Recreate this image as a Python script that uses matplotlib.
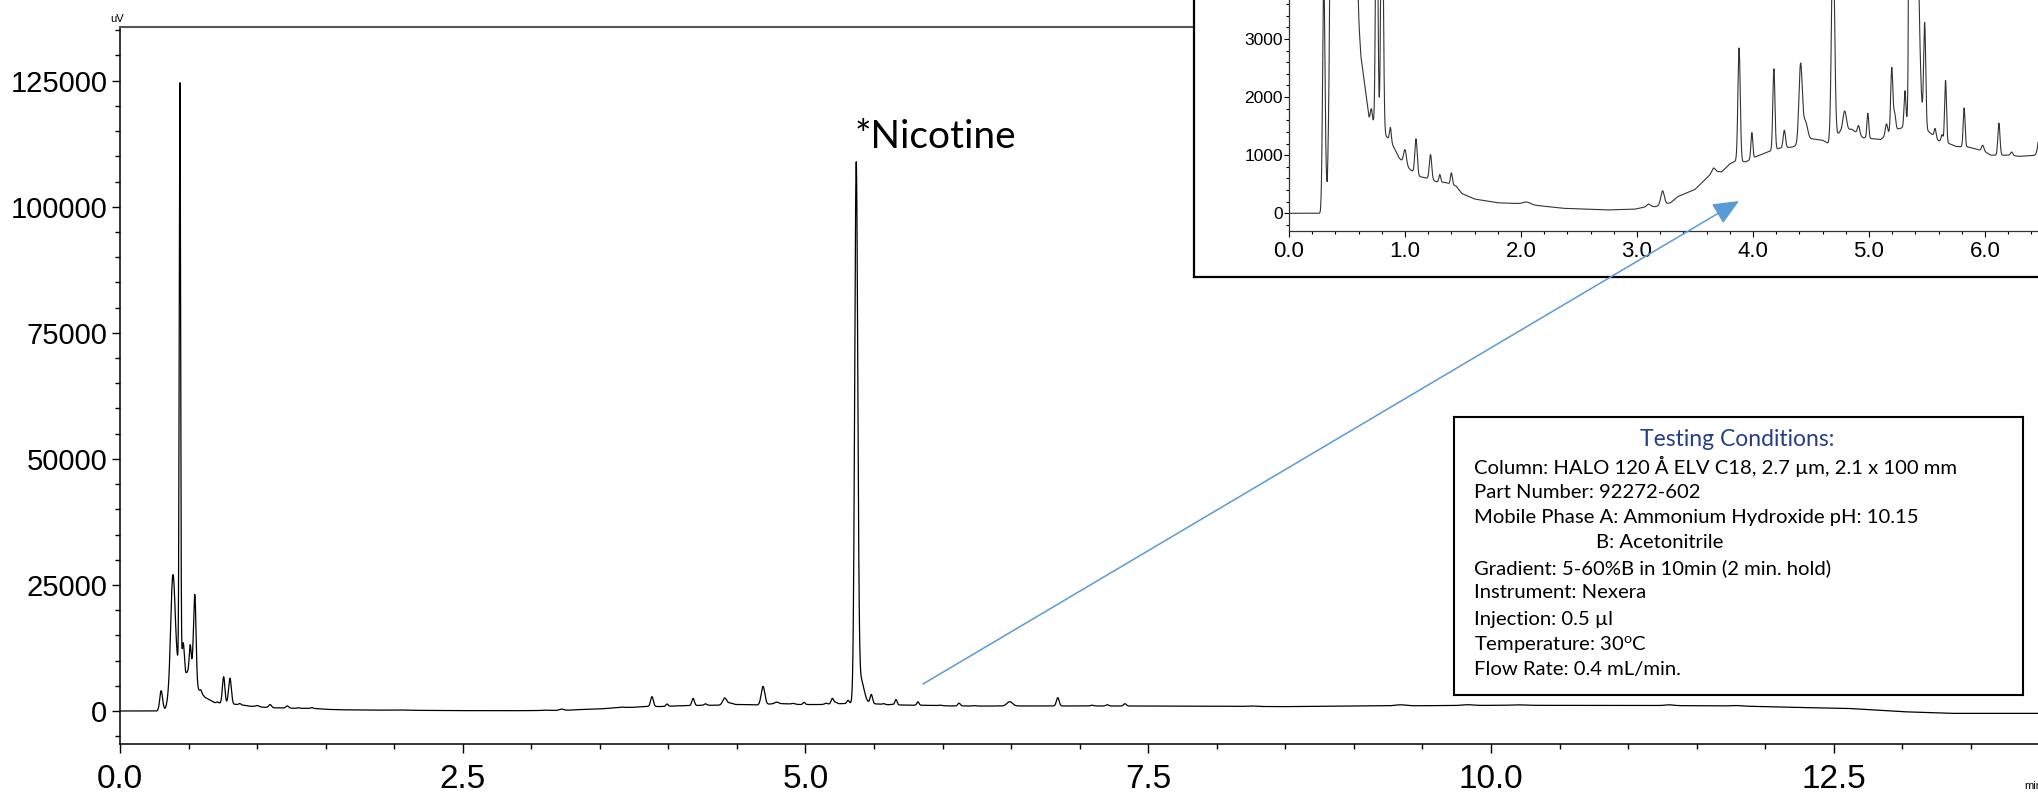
import matplotlib.pyplot as plt
from matplotlib.patches import FancyArrowPatch
from matplotlib.ticker import MultipleLocator
import numpy as np

W, H = 2038, 794

base_t = [0.00, 0.27, 0.33, 0.36, 0.40, 0.45, 0.48, 0.53, 0.56, 0.58, 0.62, 0.69, 0.75, 0.85, 0.90,
          0.95, 1.04, 1.13, 1.22, 1.275, 1.35, 1.44, 1.49, 1.60, 1.80, 2.00, 2.36, 2.74, 2.98, 3.10,
          3.16, 3.29, 3.35, 3.50, 3.66, 3.73, 3.80, 3.85, 3.94, 4.02, 4.13, 4.23, 4.34, 4.51, 4.60,
          4.65, 4.75, 4.85, 4.95, 5.02, 5.10, 5.18, 5.25, 5.30, 5.45, 5.55, 5.60, 5.69, 5.75, 5.86,
          6.00, 6.05, 6.20, 6.30, 6.46, 7.50, 8.50, 9.00, 10.00, 11.00, 11.80, 12.20, 12.60, 13.00,
          13.35, 14.10]
base_v = [0, 0, 450, 2500, 8000, 10000, 7500, 8500, 4500, 4000, 2700, 1650, 1500, 1300, 1150,
          950, 760, 630, 590, 540, 530, 470, 340, 245, 180, 165, 86, 57, 70, 120,
          114, 183, 285, 410, 720, 714, 850, 900, 886, 970, 1057, 1120, 1140, 1280, 1257,
          1200, 1400, 1450, 1300, 1285, 1270, 1380, 1450, 1480, 1500, 1350, 1250, 1200, 1150, 1140,
          1060, 1000, 1000, 980, 1000, 990, 870, 980, 1120, 1120, 1000, 720, 520, -140,
          -470, -470]

# peaks: retention time (min), height above baseline (uV), width (min)
peak_t = [0.300, 0.385, 0.437, 0.462, 0.512, 0.546, 0.590, 0.710, 0.756, 0.802, 0.874, 1.000,
          1.095, 1.220, 1.300, 1.400, 2.050, 3.100, 3.220, 3.660, 3.880, 3.990, 4.180, 4.270,
          4.410, 4.450, 4.690, 4.790, 4.910, 4.990, 5.150, 5.196, 5.220, 5.310, 5.370, 5.400,
          5.480, 5.570, 5.630, 5.660, 5.820, 5.980, 6.120, 6.230, 6.490, 6.840, 7.090, 7.200,
          7.330, 8.250, 9.340, 9.830, 10.200, 11.300, 11.790]
peak_h = [3800, 21000, 115000, 4500, 5000, 16700, 500, 200, 5300, 5100, 250, 250,
          600, 420, 130, 200, 40, 40, 240, 60, 1950, 450, 1400, 300,
          1340, 350, 3600, 340, 150, 430, 200, 1100, 300, 620, 105000, 5000,
          1800, 150, 120, 1070, 670, 100, 550, 60, 850, 1650, 150, 250,
          450, 100, 200, 150, 100, 150, 80]
peak_w = [0.010, 0.016, 0.005, 0.007, 0.007, 0.009, 0.006, 0.008, 0.009, 0.010, 0.008, 0.012,
          0.010, 0.010, 0.008, 0.008, 0.030, 0.015, 0.015, 0.015, 0.010, 0.008, 0.009, 0.010,
          0.014, 0.020, 0.013, 0.015, 0.010, 0.008, 0.010, 0.009, 0.010, 0.008, 0.011, 0.025,
          0.009, 0.008, 0.008, 0.008, 0.008, 0.010, 0.009, 0.010, 0.020, 0.010, 0.010, 0.010,
          0.010, 0.030, 0.040, 0.040, 0.050, 0.030, 0.030]

main_xticks = [0.0, 2.5, 5.0, 7.5, 10.0, 12.5]
main_yticks = [0, 25000, 50000, 75000, 100000, 125000]
inset_xticks = [0.0, 1.0, 2.0, 3.0, 4.0, 5.0, 6.0]
inset_yticks = [0, 1000, 2000, 3000]

box_title = "Testing Conditions:"
conditions = [
    "Column: HALO 120 Å ELV C18, 2.7 µm, 2.1 x 100 mm",
    "Part Number: 92272-602",
    "Mobile Phase A: Ammonium Hydroxide pH: 10.15",
    "B: Acetonitrile",
    "Gradient: 5-60%B in 10min (2 min. hold)",
    "Instrument: Nexera",
    "Injection: 0.5 µl",
    r"Temperature: 30$^\mathregular{o}$C",
    "Flow Rate: 0.4 mL/min.",
]

# build the trace
t = np.arange(0, 14.1, 0.0005)
signal = np.interp(t, base_t, base_v)
for c, h, w in zip(peak_t, peak_h, peak_w):
    signal += h * np.exp(-0.5 * ((t - c) / w) ** 2)

plt.rcParams['font.family'] = ['Liberation Sans', 'DejaVu Sans']

fig = plt.figure(figsize=(W / 100, H / 100), dpi=100)


def px_axes(left, top, right, bottom, **kw):
    # axes placed in figure pixels, measured from the top-left corner
    return fig.add_axes([left / W, 1 - bottom / H, (right - left) / W, (bottom - top) / H], **kw)


# main chromatogram
ax = px_axes(120, 26.5, 2038, 744)
ax.plot(t, signal, color='black', lw=0.9)
ax.set_xlim(0, (2038 - 120) / 137.1)
ax.set_ylim(-6545, 135750)
ax.set_xticks(main_xticks, labels=[f"{v:.1f}" for v in main_xticks])
ax.set_yticks(main_yticks, labels=[str(v) for v in main_yticks])
ax.xaxis.set_minor_locator(MultipleLocator(0.5))
ax.yaxis.set_minor_locator(MultipleLocator(5000))
ax.tick_params(axis='x', which='major', length=6.5, width=1, labelsize=24, pad=8)
ax.tick_params(axis='x', which='minor', length=3.5, width=1)
ax.tick_params(axis='y', which='major', length=6, width=1, labelsize=21, pad=3)
ax.tick_params(axis='y', which='minor', length=3.5, width=1)
ax.spines['right'].set_visible(False)
ax.spines['top'].set_color('#555555')
ax.spines['top'].set_linewidth(1.5)
for s in ['left', 'bottom']:
    ax.spines[s].set_linewidth(1.1)

fig.text(117 / W, 1 - 19 / H, "uV", ha='center', va='center', fontsize=8)
fig.text(2024 / W, 1 - 786 / H, "min", ha='left', va='center', fontsize=8)
fig.text(855 / W, 1 - 148 / H, "*Nicotine", ha='left', va='baseline', fontsize=28,
         family=['Lato', 'DejaVu Sans'])

# zoomed inset with its frame
frame = px_axes(1194, -20, 2070, 277)
frame.set_xticks([])
frame.set_yticks([])
frame.set_facecolor('white')
for s in ['top', 'right']:
    frame.spines[s].set_visible(False)
for s in ['left', 'bottom']:
    frame.spines[s].set_linewidth(1.6)

inset = px_axes(1289, 0, 2038, 231)
inset.set_facecolor('none')
inset.plot(t, signal, color='#333333', lw=0.8)
inset.set_xlim(0, (2038 - 1289) / 116)
inset.set_ylim(-305, 3671)
inset.set_xticks(inset_xticks, labels=[f"{v:.1f}" for v in inset_xticks])
inset.set_yticks(inset_yticks, labels=[str(v) for v in inset_yticks])
inset.xaxis.set_minor_locator(MultipleLocator(0.2))
inset.yaxis.set_minor_locator(MultipleLocator(200))
inset.tick_params(axis='x', which='major', length=4.5, width=0.8, labelsize=16, pad=3)
inset.tick_params(axis='x', which='minor', length=2.5, width=0.8)
inset.tick_params(axis='y', which='major', length=3.5, width=0.8, labelsize=12.5, pad=1)
inset.tick_params(axis='y', which='minor', length=2.5, width=0.8)
for s in ['top', 'right']:
    inset.spines[s].set_visible(False)
for s in ['left', 'bottom']:
    inset.spines[s].set_color('#333333')
    inset.spines[s].set_linewidth(0.9)

# arrow from the baseline up into the inset
arrow = FancyArrowPatch((923 / W, 1 - 684 / H), (1739 / W, 1 - 201 / H),
                        transform=fig.transFigure, arrowstyle='-|>,head_length=0.8,head_width=0.35',
                        mutation_scale=20, color='#5B9BD5', lw=1.1, shrinkA=0, shrinkB=0, zorder=10)
fig.add_artist(arrow)

# testing conditions box
tb = px_axes(1454, 417, 2023, 695)
tb.set_xlim(1454, 2023)
tb.set_ylim(695, 417)
tb.set_xticks([])
tb.set_yticks([])
for s in tb.spines.values():
    s.set_linewidth(1.5)
lato = ['Lato', 'DejaVu Sans']
tb.text(1737, 440, box_title, ha='center', va='center', fontsize=16.5, color='#233F86', family=lato)
line_y = [466, 492, 517, 543, 568, 593, 619, 645, 670]
for line, y in zip(conditions, line_y):
    x = 1596 if line.startswith("B:") else 1474
    tb.text(x, y, line, ha='left', va='center', fontsize=14.6, color='black', family=lato)

fig.savefig('out.png', dpi=100)
